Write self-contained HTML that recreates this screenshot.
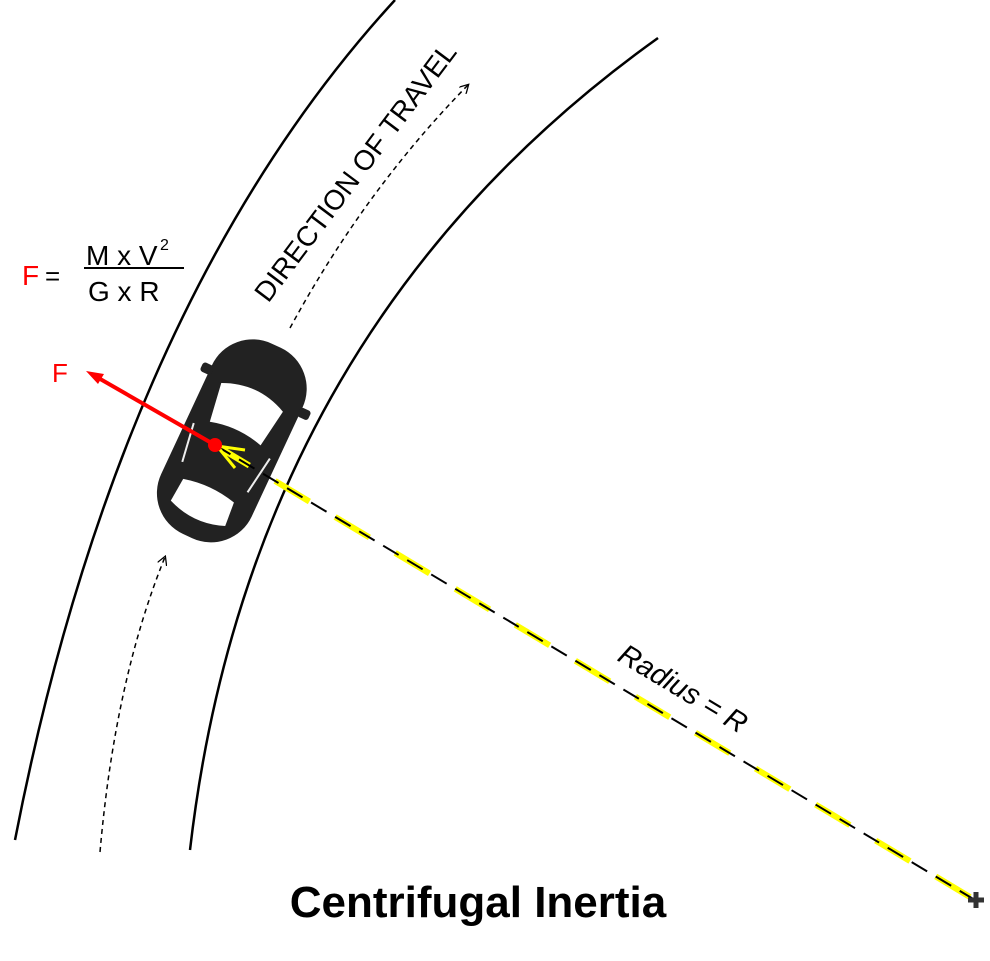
<!DOCTYPE html><html><head><style>body{margin:0;background:#fff}svg{display:block}</style></head><body>
<svg width="990" height="961" xmlns="http://www.w3.org/2000/svg" font-family="Liberation Sans, sans-serif">
<defs><marker id="ah" markerWidth="10" markerHeight="10" refX="8" refY="5" orient="auto" markerUnits="userSpaceOnUse"><path d="M0,0 L9,5 L0,10" fill="none" stroke="#000" stroke-width="1.3"/></marker></defs>
<path d="M15,840 Q120,300 395,0" fill="none" stroke="#000" stroke-width="2.5"/>
<path d="M190,850 Q250,330 658,38" fill="none" stroke="#000" stroke-width="2.5"/>
<path d="M100,852 Q115,680 165,557" fill="none" stroke="#000" stroke-width="1.5" stroke-dasharray="5,4" marker-end="url(#ah)"/>
<path d="M290,328 Q365,190 468,85" fill="none" stroke="#000" stroke-width="1.5" stroke-dasharray="5,4" marker-end="url(#ah)"/>
<g transform="rotate(25 230 440)">
<rect x="182" y="335" width="100" height="210" rx="45" fill="#222"/>
<rect x="173" y="380" width="12" height="10" rx="3" fill="#222"/>
<rect x="280" y="380" width="12" height="10" rx="3" fill="#222"/>
<path d="M198,392 Q232,376 266,392 L260,432 Q232,424 204,432 Z" fill="#fff"/>
<path d="M204,495 Q232,488 260,495 L262,520 Q232,532 202,520 Z" fill="#fff"/>
<path d="M190,440 L196,480 M274,440 L268,480" stroke="#eee" stroke-width="2"/>
</g>
<line x1="215" y1="445" x2="975" y2="900" stroke="#ff0" stroke-width="6" stroke-dasharray="40,30"/>
<line x1="215" y1="445" x2="975" y2="900" stroke="#000" stroke-width="2" stroke-dasharray="18,10"/>
<path d="M217,446 L245,450 M217,446 L235,468" stroke="#ff0" stroke-width="3"/>
<line x1="215" y1="445" x2="95" y2="376" stroke="#f00" stroke-width="4"/>
<path d="M86,371 L104,374 L98,384 Z" fill="#f00"/>
<circle cx="215" cy="445" r="7" fill="#f00"/>
<path d="M968,900 h16 M976,892 v16" stroke="#333" stroke-width="5"/>
<text x="52" y="382" font-size="26" fill="#f00">F</text>
<text x="22" y="285" font-size="28" fill="#f00">F</text><text x="45" y="285" font-size="26">=</text>
<text x="86" y="265" font-size="28">M x V</text><text x="160" y="250" font-size="16">2</text>
<line x1="84" y1="268" x2="184" y2="268" stroke="#000" stroke-width="2"/>
<text x="88" y="301" font-size="28">G x R</text>
<text transform="translate(363,178) rotate(-53)" text-anchor="middle" font-size="28">DIRECTION OF TRAVEL</text>
<text transform="translate(678,697) rotate(31)" text-anchor="middle" font-size="29" font-style="italic">Radius = R</text>
<text x="478" y="917" text-anchor="middle" font-size="44" font-weight="bold">Centrifugal Inertia</text>
</svg></body></html>
